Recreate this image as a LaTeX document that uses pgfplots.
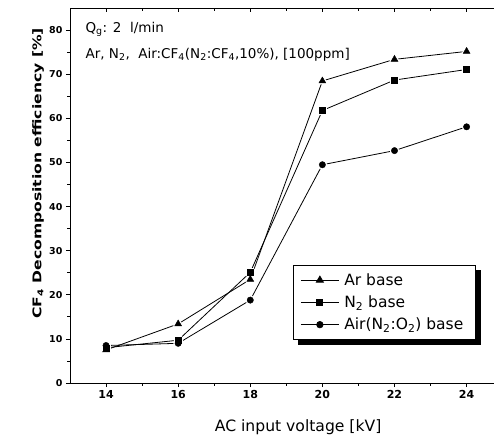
\documentclass[border=0pt]{standalone}
\usepackage{fontspec}
\setmainfont{DejaVu Sans}
\usepackage{pgfplots}
\usepackage{pgfplotstable}
\pgfplotsset{compat=1.18}
\pgfdeclarelayer{background}
\pgfsetlayers{background,main}

\pgfplotstableread{
x y
14 7.5
16 13.4
18 23.5
20 68.5
22 73.4
24 75.2
}\arbase
\pgfplotstableread{
x y
14 8.0
16 9.7
18 25.1
20 61.8
22 68.7
24 71.1
}\ntwobase
\pgfplotstableread{
x y
14 8.5
16 9.0
18 18.8
20 49.5
22 52.7
24 58.1
}\airbase

\begin{document}
\begin{tikzpicture}
\pgfplotsset{
  common/.style={
    at={(0pt,0pt)}, anchor=south west,
    scale only axis, width=424pt, height=374.8pt,
    xmin=13, xmax=24.76, ymin=0, ymax=85,
    xtick={14,16,...,24}, minor x tick num=1,
    major tick length=4pt, minor tick length=2.5pt,
    axis line style={-, line width=0.9pt},
    every tick/.style={black, line width=0.8pt},
  }
}
\begin{axis}[common,
  axis x line*=bottom, axis y line*=left,
  tick align=outside,
  ytick={0,10,...,80}, minor y tick num=1,
  xticklabel style={font=\fontsize{11}{13}\selectfont\bfseries},
  yticklabel style={font=\fontsize{9.5}{11}\selectfont\bfseries},
  /pgf/number format/assume math mode=true,
  xlabel={AC input voltage [kV]},
  xlabel style={at={(axis description cs:0.538,-0.117)}, anchor=center, font=\fontsize{15.6}{18}\selectfont},
  ylabel={\scalebox{1.3}[1]{CF\textsubscript{4} Decomposition efficiency [\%]}},
  ylabel style={at={(axis description cs:-0.075,0.559)}, anchor=center, font=\fontsize{12}{14}\selectfont\bfseries},
  legend style={name=leg, at={(rel axis cs:0.526,0.3148)}, anchor=north west,
    draw=black, line width=0.9pt, fill=white,
    font=\fontsize{15.5}{18}\selectfont, row sep=5pt,
    inner xsep=7pt, inner ysep=6pt,
    nodes={inner xsep=5pt, inner ysep=2pt}},
  legend cell align=left,
  legend image code/.code={\draw[mark repeat=2, mark phase=2, #1] plot coordinates {(0pt,0pt) (19pt,0pt) (38pt,0pt)};},
]
\addplot[black, line width=0.8pt, mark=triangle*, mark size=4pt] table {\arbase};
\addlegendentry{Ar base}
\addplot[black, line width=0.8pt, mark=square*, mark size=3pt] table {\ntwobase};
\addlegendentry{N\textsubscript{2} base}
\addplot[black, line width=0.8pt, mark=*, mark size=3.2pt] table {\airbase};
\addlegendentry{Air(N\textsubscript{2}:O\textsubscript{2}) base}

\addplot[forget plot, only marks, white, mark=triangle*, mark size=4pt, mark options={line width=3pt, line join=round}] table {\arbase};
\addplot[forget plot, only marks, white, mark=square*, mark size=3pt, mark options={line width=3pt, line join=round}] table {\ntwobase};
\addplot[forget plot, only marks, white, mark=*, mark size=3.2pt, mark options={line width=3pt}] table {\airbase};
\addplot[forget plot, only marks, black, mark=triangle*, mark size=4pt] table {\arbase};
\addplot[forget plot, only marks, black, mark=square*, mark size=3pt] table {\ntwobase};
\addplot[forget plot, only marks, black, mark=*, mark size=3.2pt] table {\airbase};

\node[anchor=base west, font=\fontsize{13.5}{15}\selectfont] at (rel axis cs:0.0283,0.9365) {Q\textsubscript{g}: 2\ \ l/min};
\node[anchor=base west, font=\fontsize{13.5}{15}\selectfont] at (rel axis cs:0.0283,0.867) {Ar, N\textsubscript{2}, \ Air:CF\textsubscript{4}(N\textsubscript{2}:CF\textsubscript{4},10\%), [100ppm]};
\end{axis}
\begin{axis}[common,
  axis x line*=top, axis y line=none,
  tick align=inside, xticklabels={},
]
\end{axis}
\begin{pgfonlayer}{background}
\fill[black] ([shift={(5pt,-5pt)}]leg.south west) rectangle ([shift={(5pt,-5pt)}]leg.north east);
\end{pgfonlayer}
\pgfresetboundingbox
\useasboundingbox (-70pt,-58pt) rectangle (424pt,383pt);
\end{tikzpicture}
\end{document}
